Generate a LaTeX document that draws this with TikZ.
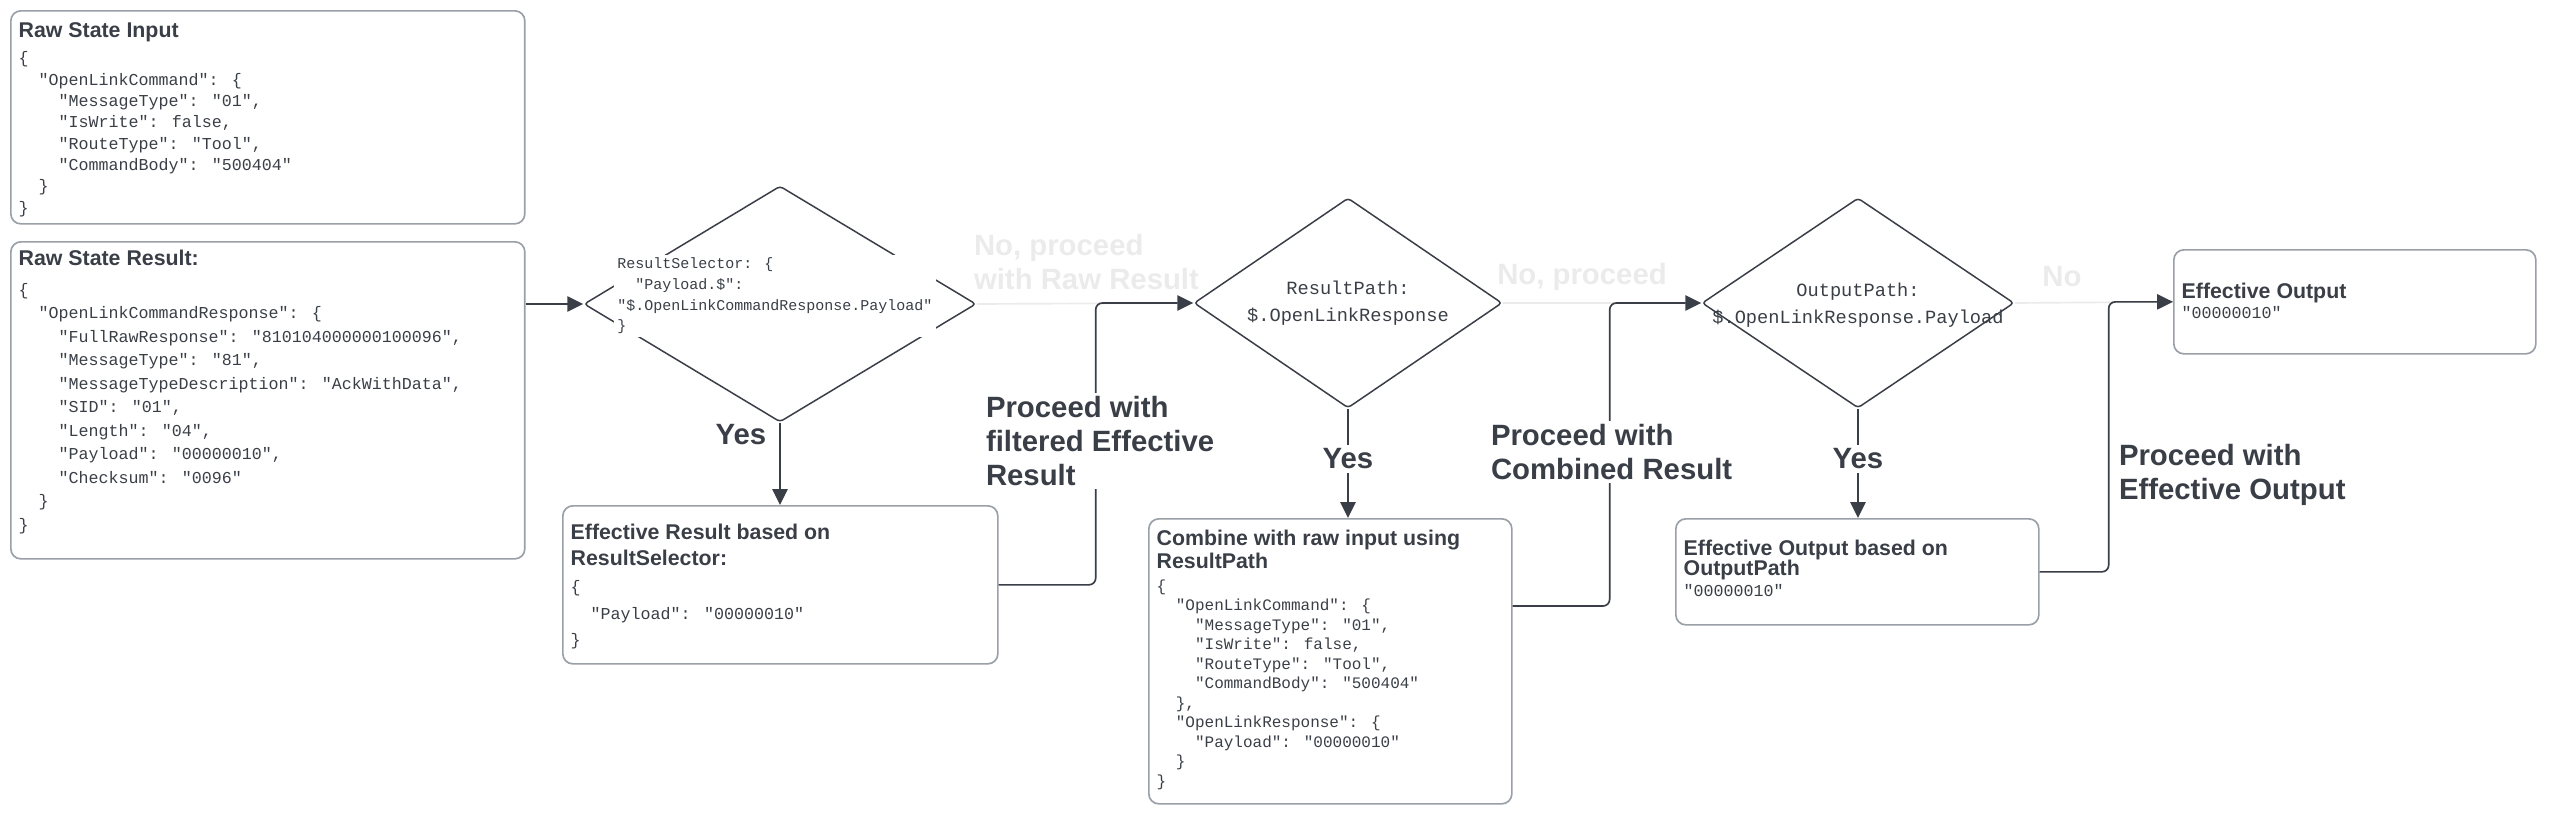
\documentclass[tikz,border=0pt]{standalone}
\usepackage{fontspec}
\setmainfont{Liberation Sans}
\newfontfamily\monof{Liberation Mono}
\usetikzlibrary{shapes.geometric,arrows.meta,calc}
\definecolor{ln}{HTML}{3A3F47}
\definecolor{bx}{HTML}{9AA0A8}
\definecolor{faint}{HTML}{EBEBEB}
\newcommand{\hd}{\rmfamily\bfseries\fontsize{6.4}{7.8}\selectfont}
\newcommand{\I}{\hspace*{1.2em}}
\newcommand{\II}{\hspace*{2.4em}}
\begin{document}
\begin{tikzpicture}[x=0.3pt,y=-0.3pt,
  box/.style={draw=bx,line width=0.5pt,rounded corners=3pt,inner sep=0},
  dia/.style={draw=ln,line width=0.45pt,diamond,inner sep=0,rounded corners=1pt},
  txt/.style={anchor=north west,align=left,inner sep=0,text=ln},
  big/.style={font=\bfseries\fontsize{8.8}{10.2}\selectfont,text=ln,align=left,inner sep=1pt},
  conn/.style={draw=ln,line width=0.5pt,rounded corners=2pt},
  arr/.style={-{Triangle[length=4.8pt,width=4.6pt]}},
  fconn/.style={draw=faint,line width=0.5pt}]
\useasboundingbox (0,0) rectangle (2552,816);
% boxes
\node[box,minimum width=154.2pt,minimum height=63.9pt,anchor=north west] (in) at (10,10) {};
\node[box,minimum width=154.2pt,minimum height=95.1pt,anchor=north west] (res) at (10,241) {};
\node[box,minimum width=130.5pt,minimum height=47.4pt,anchor=north west] (er) at (562,505) {};
\node[box,minimum width=108.9pt,minimum height=85.5pt,anchor=north west] (cb) at (1148,518) {};
\node[box,minimum width=108.9pt,minimum height=31.8pt,anchor=north west] (eob) at (1675,518) {};
\node[box,minimum width=108.6pt,minimum height=31.2pt,anchor=north west] (eo) at (2173,249) {};
% diamonds
\node[dia,minimum width=117.6pt,minimum height=70.8pt] (d1) at (780,304) {};
\node[dia,minimum width=92.4pt,minimum height=63pt] (d2) at (1348,303) {};
\node[dia,minimum width=93.6pt,minimum height=63pt] (d3) at (1858,303) {};
% box texts
\node[txt,font=\monof\fontsize{5}{6.4}\selectfont] (tin) at (18,22) {{\hd Raw State Input}\\[1.5pt]
\{\\
\I"OpenLinkCommand": \{\\
\II"MessageType": "01",\\
\II"IsWrite": false,\\
\II"RouteType": "Tool",\\
\II"CommandBody": "500404"\\
\I\}\\
\}};
\node[txt,font=\monof\fontsize{5}{7.05}\selectfont] (tres) at (18,249) {{\hd Raw State Result:}\\[2pt]
\{\\
\I"OpenLinkCommandResponse": \{\\
\II"FullRawResponse": "810104000000100096",\\
\II"MessageType": "81",\\
\II"MessageTypeDescription": "AckWithData",\\
\II"SID": "01",\\
\II"Length": "04",\\
\II"Payload": "00000010",\\
\II"Checksum": "0096"\\
\I\}\\
\}};
\node[txt,font=\monof\fontsize{5}{8}\selectfont] (ter) at (570,523) {{\hd Effective Result based on}\\{\hd ResultSelector:}\\
\{\\
\I"Payload": "00000010"\\
\}};
\node[txt,font=\monof\fontsize{4.8}{5.85}\selectfont] (tcb) at (1156,529) {{\hd Combine with raw input using}\\{\hd ResultPath}\\[1pt]
\{\\
\I"OpenLinkCommand": \{\\
\II"MessageType": "01",\\
\II"IsWrite": false,\\
\II"RouteType": "Tool",\\
\II"CommandBody": "500404"\\
\I\},\\
\I"OpenLinkResponse": \{\\
\II"Payload": "00000010"\\
\I\}\\
\}};
\node[txt,font=\monof\fontsize{5}{6.2}\selectfont] (teob) at (1683,539) {{\hd Effective Output based on}\\{\hd OutputPath}\\
"00000010"};
\node[txt,font=\monof\fontsize{5}{6.2}\selectfont] (teo) at (2181,282) {{\hd Effective Output}\\
"00000010"};
% diamond texts
\node[fill=white,inner sep=1pt,align=left,text=ln,font=\monof\fontsize{4.5}{6.2}\selectfont] (td1) at (775,296) {ResultSelector: \{\\
\I"Payload.\$":\\
"\$.OpenLinkCommandResponse.Payload"\\
\}};
\node[inner sep=1pt,align=center,text=ln,font=\monof\fontsize{5.6}{8}\selectfont] (td2) at (1348,303) {ResultPath:\\\$.OpenLinkResponse};
\node[inner sep=1pt,align=center,text=ln,font=\monof\fontsize{5.6}{8}\selectfont] (td3) at (1858,305) {OutputPath:\\\$.OpenLinkResponse.Payload};
% faint connectors
\draw[fconn] (d1.east) -- (d2.west);
\draw[fconn] (d2.east) -- (d3.west);
\draw[fconn] (d3.east) -- (eo.west);
\node[big,text=faint,anchor=south west] (n1) at (970,294) {No, proceed\\with Raw Result};
\node[big,text=faint] (n2) at (1582,277) {No, proceed};
\node[big,text=faint] (n3) at (2062,277) {No};
% connectors
\draw[conn,arr] (res.east |- d1.west) -- (d1.west);
\draw[conn,arr] (d1.south) -- (er.north -| d1.south);
\draw[conn,arr] (er.east) -- ++(97,0) |- (d2.west);
\draw[conn,arr] (d2.south) -- (cb.north -| d2.south);
\draw[conn,arr] ($(cb.north east)+(0,88)$) -- ++(97,0) |- (d3.west);
\draw[conn,arr] (d3.south) -- (eob.north -| d3.south);
\draw[conn,arr] (eob.east) -- ++(69,0) |- (eo.west);
% labels
\node[big] (y1) at (741,435) {Yes};
\node[big,fill=white] (y2) at (1348,459) {Yes};
\node[big,fill=white] (y3) at (1858,459) {Yes};
\node[big,fill=white,anchor=west] (p1) at (982,441) {Proceed with\\filtered Effective\\Result};
\node[big,fill=white,anchor=west] (p2) at (1487,452) {Proceed with\\Combined Result};
\node[big,fill=white,anchor=west] (p3) at (2115,475) {Proceed with\\Effective Output};
\end{tikzpicture}
\end{document}
